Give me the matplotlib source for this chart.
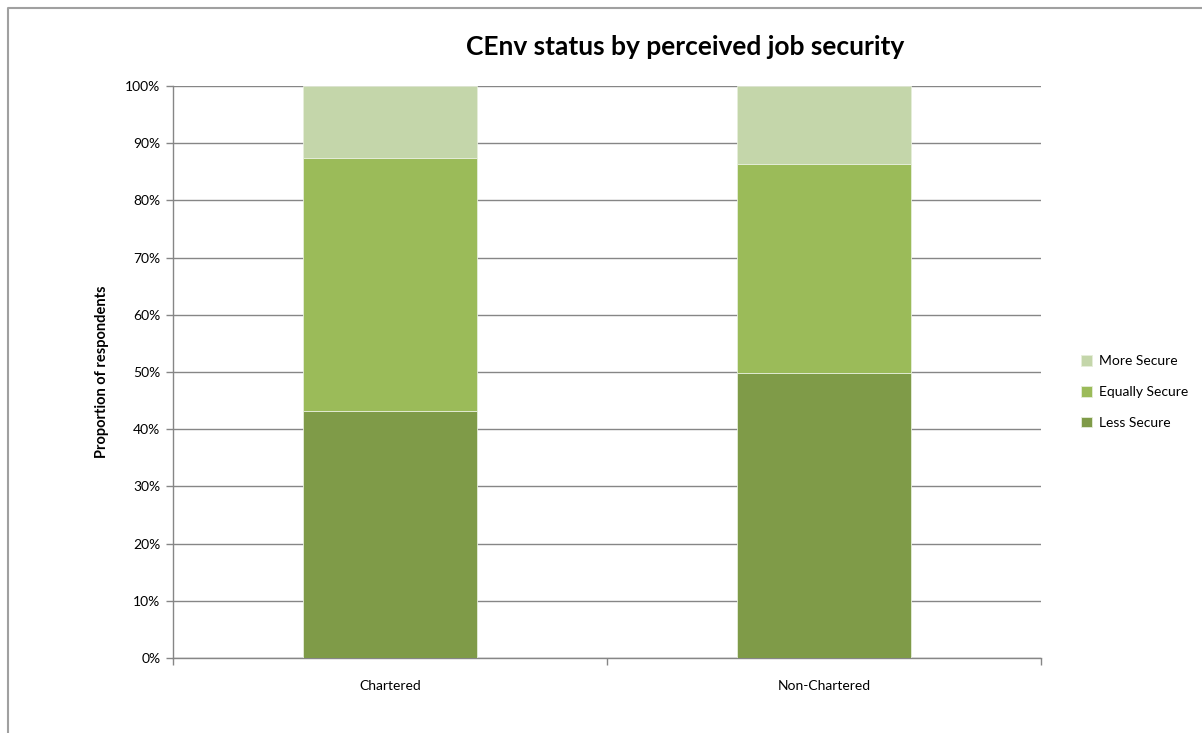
import matplotlib
matplotlib.use("Agg")
import matplotlib.pyplot as plt
from matplotlib.lines import Line2D
from matplotlib.ticker import FixedLocator, PercentFormatter

categories = ["Chartered", "Non-Chartered"]
less_secure = [43.2, 49.8]
equally_secure = [44.2, 36.5]
more_secure = [12.6, 13.7]
series_names = ["Less Secure", "Equally Secure", "More Secure"]
colors = ["#7F9B48", "#9BBB59", "#C4D6AA"]

plt.rcParams['font.family'] = ['Lato', 'DejaVu Sans']

fig = plt.figure(figsize=(12.02, 7.33), dpi=100)
ax = fig.add_axes([173/1202, 1-658/733, (1041-173)/1202, (658-86)/733])

x = list(range(len(categories)))
bottoms = [0]*len(categories)
handles = []
for vals, name, c in zip([less_secure, equally_secure, more_secure], series_names, colors):
    b = ax.bar(x, vals, width=0.4, bottom=bottoms, color=c, label=name,
               edgecolor="#E6EEDA", linewidth=0.6, zorder=3)
    handles.append(b)
    bottoms = [bo + v for bo, v in zip(bottoms, vals)]

ax.set_xlim(-0.5, 1.5)
ax.set_ylim(0, 100)
ax.yaxis.set_major_locator(FixedLocator(range(0, 101, 10)))
ax.yaxis.set_major_formatter(PercentFormatter(decimals=0))
ax.set_xticks(x)
ax.set_xticklabels(categories, fontsize=10)
ax.xaxis.set_minor_locator(FixedLocator([-0.5, 0.5, 1.5]))
ax.tick_params(axis='x', which='major', length=0, pad=16)
ax.tick_params(axis='x', which='minor', length=5, color="#868686", width=1)
ax.tick_params(axis='y', length=5, color="#868686", width=1, labelsize=10, pad=4)
ax.grid(axis='y', color="#868686", linewidth=1, zorder=0)
for s in ['top', 'right']:
    ax.spines[s].set_visible(False)
for s in ['left', 'bottom']:
    ax.spines[s].set_color("#868686")
    ax.spines[s].set_linewidth(1)

ax.set_ylabel("Proportion of respondents", fontsize=10.5, fontweight='bold', labelpad=12)
fig.text(685/1202, 1-47/733, "CEnv status by perceived job security", fontsize=19,
         fontweight='bold', ha='center', va='center')

leg = fig.legend(handles[::-1], series_names[::-1], loc='center left',
                 bbox_to_anchor=(1068/1202, 1-392/733), frameon=False, fontsize=10,
                 handlelength=0.8, handleheight=0.8, labelspacing=1.35, handletextpad=0.5)

# chart frame
fig.add_artist(Line2D([8/1202, 8/1202, 1.0], [0.0, 1-8/733, 1-8/733],
                      transform=fig.transFigure, color="#A0A0A0", linewidth=1.5))

fig.savefig("out.png", dpi=100)
